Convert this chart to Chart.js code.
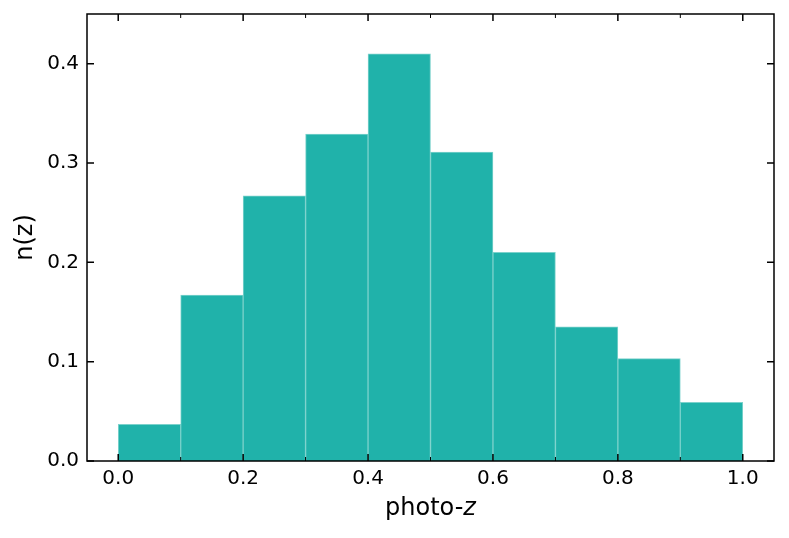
<!DOCTYPE html>
<html>
<head>
<meta charset="utf-8">
<script src="https://cdn.jsdelivr.net/npm/chart.js@4"></script>
<style>
  html, body { margin: 0; padding: 0; background: #fff; }
  #wrap { width: 789px; height: 538px; }
</style>
</head>
<body>
<div id="wrap"><canvas id="histChart" width="789" height="538"></canvas></div>
<script>
// Histogram of photo-z, bins of width 0.1
const binCenters = [0.05, 0.15, 0.25, 0.35, 0.45, 0.55, 0.65, 0.75, 0.85, 0.95];
const nz = [0.037, 0.167, 0.267, 0.329, 0.410, 0.311, 0.210, 0.135, 0.103, 0.059];
const xMajorTicks = [0.0, 0.2, 0.4, 0.6, 0.8, 1.0];
const xMinorTicks = [0.1, 0.3, 0.5, 0.7, 0.9];
const yTicks = [0.0, 0.1, 0.2, 0.3, 0.4];

const FONT = "'DejaVu Sans', sans-serif";

// matplotlib-style frame with inward ticks on all sides
const frameTicks = {
  id: 'frameTicks',
  afterDraw(chart) {
    const { ctx, chartArea: a, scales: { x, y } } = chart;
    ctx.save();
    ctx.strokeStyle = '#000';
    ctx.lineWidth = 1.5;
    ctx.beginPath();
    xMajorTicks.forEach(v => {
      const px = x.getPixelForValue(v);
      ctx.moveTo(px, a.bottom); ctx.lineTo(px, a.bottom - 7);
      ctx.moveTo(px, a.top); ctx.lineTo(px, a.top + 7);
    });
    yTicks.forEach(v => {
      const py = y.getPixelForValue(v);
      ctx.moveTo(a.left, py); ctx.lineTo(a.left + 7, py);
      ctx.moveTo(a.right, py); ctx.lineTo(a.right - 7, py);
    });
    ctx.stroke();
    ctx.lineWidth = 1;
    ctx.beginPath();
    xMinorTicks.forEach(v => {
      const px = x.getPixelForValue(v);
      ctx.moveTo(px, a.bottom); ctx.lineTo(px, a.bottom - 4);
      ctx.moveTo(px, a.top); ctx.lineTo(px, a.top + 4);
    });
    ctx.stroke();
    ctx.lineWidth = 1.5;
    ctx.strokeRect(a.left, a.top, a.right - a.left, a.bottom - a.top);

    // x axis title: "photo-" upright, "z" italic
    const cx = (a.left + a.right) / 2;
    ctx.fillStyle = '#000';
    ctx.textBaseline = 'alphabetic';
    ctx.textAlign = 'left';
    const upright = "24px " + FONT;
    const italic = "italic 24px " + FONT;
    ctx.font = upright;
    const w1 = ctx.measureText('photo-').width;
    ctx.font = italic;
    const w2 = ctx.measureText('z').width;
    const startX = cx - (w1 + w2) / 2;
    ctx.font = upright;
    ctx.fillText('photo-', startX, 515);
    ctx.font = italic;
    ctx.fillText('z', startX + w1, 515);
    ctx.restore();
  }
};

new Chart(document.getElementById('histChart'), {
  type: 'bar',
  data: {
    datasets: [{
      data: binCenters.map((c, i) => ({ x: c, y: nz[i] })),
      backgroundColor: '#20b2aa',
      borderColor: 'rgba(110, 205, 199, 0.9)',
      borderWidth: 1,
      barPercentage: 1,
      categoryPercentage: 1
    }]
  },
  options: {
    responsive: false,
    animation: false,
    layout: { padding: { left: 0, right: 15, top: 14, bottom: 0 } },
    plugins: { legend: { display: false }, tooltip: { enabled: false } },
    scales: {
      x: {
        type: 'linear',
        min: -0.05,
        max: 1.05,
        offset: false,
        grid: { display: false, drawTicks: false },
        border: { display: false },
        afterFit: s => { s.height = 77; s.paddingLeft = 0; s.paddingRight = 0; },
        afterBuildTicks: s => { s.ticks = xMajorTicks.map(v => ({ value: v })); },
        ticks: {
          padding: 6,
          color: '#000',
          font: { family: FONT, size: 20 },
          maxRotation: 0,
          callback: v => v.toFixed(1)
        },
        title: { display: false }
      },
      y: {
        min: 0,
        max: 0.45,
        grid: { display: false, drawTicks: false },
        border: { display: false },
        afterFit: s => { s.width = 87; s.paddingTop = 0; s.paddingBottom = 0; },
        afterBuildTicks: s => { s.ticks = yTicks.map(v => ({ value: v })); },
        ticks: {
          padding: 8,
          color: '#000',
          font: { family: FONT, size: 20 },
          callback: v => v.toFixed(1)
        },
        title: {
          display: true,
          text: 'n(z)',
          color: '#000',
          font: { family: FONT, size: 24 },
          padding: { top: 11, bottom: 0 }
        }
      }
    }
  },
  plugins: [frameTicks]
});
</script>
</body>
</html>
